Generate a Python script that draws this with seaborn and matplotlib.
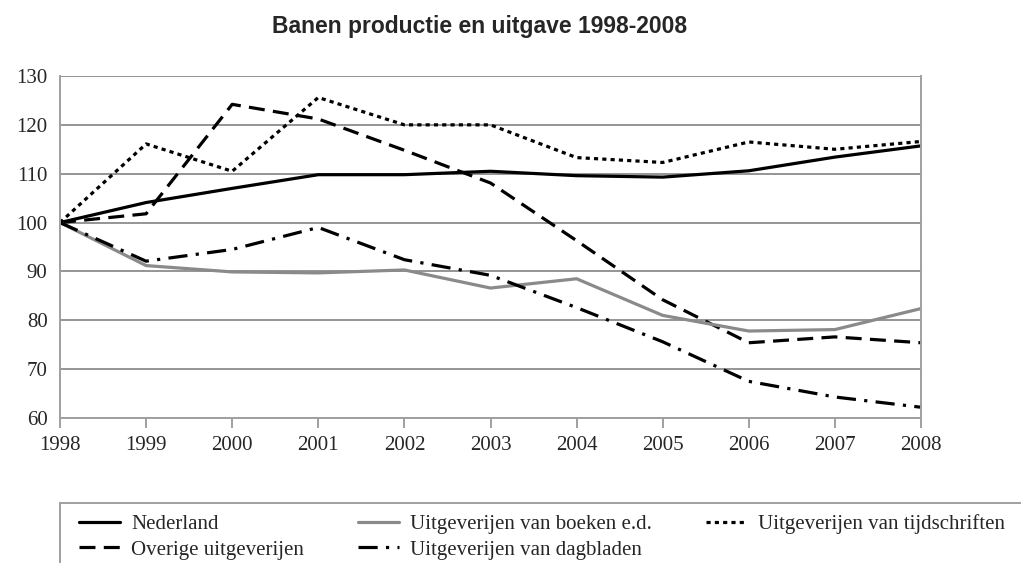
import numpy as np
import pandas as pd
import matplotlib
matplotlib.use("Agg")
import matplotlib.pyplot as plt
import seaborn as sns
from matplotlib.patches import Rectangle

years = list(range(1998, 2009))
nederland = [100, 104.1, 107.0, 109.8, 109.8, 110.5, 109.6, 109.3, 110.6, 113.4, 115.7]
overige = [100, 101.8, 124.2, 121.2, 114.8, 108.1, 96.3, 84.2, 75.4, 76.6, 75.4]
boeken = [100, 91.2, 89.9, 89.7, 90.3, 86.6, 88.5, 81.0, 77.8, 78.1, 82.4]
dagbladen = [100, 92.1, 94.5, 99.0, 92.4, 89.2, 82.6, 75.6, 67.5, 64.3, 62.2]
tijdschriften = [100, 116.1, 110.5, 125.6, 120.0, 120.0, 113.3, 112.3, 116.5, 115.0, 116.6]

names = ["Nederland", "Overige uitgeverijen", "Uitgeverijen van boeken e.d.",
         "Uitgeverijen van dagbladen", "Uitgeverijen van tijdschriften"]
series = [nederland, overige, boeken, dagbladen, tijdschriften]

df = pd.DataFrame({
    "jaar": years * len(names),
    "reeks": [n for n in names for _ in years],
    "index": [v for s in series for v in s],
})

palette = {names[0]: "black", names[1]: "black", names[2]: "#8a8a8a",
           names[3]: "black", names[4]: "black"}
dashes = {names[0]: "", names[1]: (5, 2.6), names[2]: "",
          names[3]: (6, 2.6, 1, 2.6), names[4]: (1.3, 1.3)}

sns.set_style("white")
plt.rcParams["font.family"] = ["Liberation Serif", "DejaVu Serif"]

fig = plt.figure(figsize=(10.21, 5.63), dpi=100)
ax = fig.add_axes([60 / 1021, 1 - 418 / 563, 861 / 1021, 342 / 563])

grid_c = "#959595"
for y in range(60, 131, 10):
    ax.axhline(y, color=grid_c, lw=1.4, zorder=0)

sns.lineplot(data=df, x="jaar", y="index", hue="reeks", style="reeks",
             hue_order=names, style_order=names, palette=palette, dashes=dashes,
             linewidth=2.3, legend=False, ax=ax)

ax.set_xlim(1998, 2008)
ax.set_ylim(60, 130)
ax.set_xticks(years)
ax.set_yticks(range(60, 131, 10))
ax.set_xlabel("")
ax.set_ylabel("")
ax.spines["top"].set_visible(False)
for side in ["left", "right", "bottom"]:
    ax.spines[side].set_color("#a0a0a0")
    ax.spines[side].set_linewidth(1.4)
ax.tick_params(axis="x", length=7, width=1.4, color="#a0a0a0", direction="out",
               labelsize=15, pad=6, bottom=True)
ax.tick_params(axis="y", length=0, labelsize=15, pad=9)

fig.text(0.47, 1 - 26 / 563, "Banen productie en uitgave 1998-2008",
         family="Liberation Sans", weight="bold", fontsize=16.5,
         ha="center", va="center")

# legend frame, partly cut off at the bottom like the reference
fig.patches.append(Rectangle((60 / 1021, -0.1), 1.0, 1 - 503 / 563 + 0.1,
                             transform=fig.transFigure, fill=False,
                             edgecolor="#a0a0a0", lw=1.4))
handles = ax.get_lines()[-len(names):]
fig.legend(handles, names, ncol=3, loc="upper left",
           bbox_to_anchor=(79 / 1021, 1 - 514 / 563), frameon=False,
           fontsize=15, handlelength=1.95, handletextpad=0.55,
           columnspacing=2.6, labelspacing=0.3, borderpad=0,
           borderaxespad=0)

fig.savefig("out.png", dpi=100)
